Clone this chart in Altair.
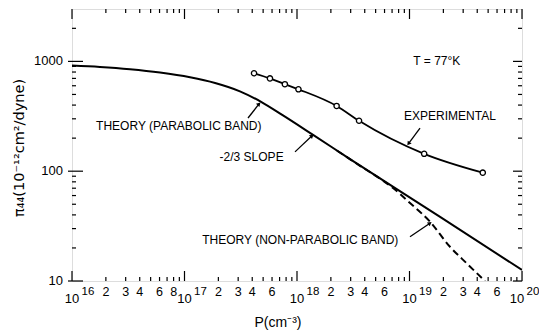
import altair as alt
import pandas as pd

# ---------------------------------------------------------------- curves
# Theory, parabolic band (solid line)
theory_parabolic_p = [1e16, 1.77e16, 3.28e16, 6.06e16, 1.12e17, 1.87e17, 3.11e17,
                      4.88e17, 7.51e17, 1.39e18, 2.96e18, 1.87e19, 1e20]
theory_parabolic_pi = [918, 891, 849, 792, 717, 636, 534,
                       424, 322, 214, 129, 38.3, 12.6]

# Theory, non-parabolic band (dashed line)
theory_nonparabolic_p = [2.27e18, 3.63e18, 5.81e18, 7.18e18, 1.01e19,
                         1.52e19, 2.29e19, 3.22e19, 4.69e19]
theory_nonparabolic_pi = [154, 112, 82, 70, 51.3, 34.7, 20.5, 14.5, 10]

# Measured values at 77 K
experimental_p = [4.15e17, 5.75e17, 7.8e17, 1.03e18, 2.25e18, 3.56e18, 1.35e19, 4.48e19]
experimental_pi = [780, 700, 620, 557, 393, 288, 144, 97]

# ----------------------------------------------------------- annotations
label_text = ["T = 77°K", "EXPERIMENTAL", "THEORY (PARABOLIC BAND)",
              "-2/3 SLOPE", "THEORY (NON-PARABOLIC BAND)"]
label_p = [1.75e19, 2.29e19, 8.9e16, 3.95e17, 1.07e18]
label_pi = [1000, 318, 258, 135, 23.6]

arrow_name = ["experimental", "parabolic", "slope", "nonparabolic"]
arrow_tail_p = [1.24e19, 3.67e17, 9.6e17, 1.01e19]
arrow_tail_pi = [247, 305, 150, 25.3]
arrow_head_p = [9.8e18, 4.6e17, 1.36e18, 1.52e19]
arrow_head_pi = [178, 410, 210, 33.6]
arrow_angle = [215, 43, 50, 55]

# ------------------------------------------------------------ axis ticks
x_decades = [1e16, 1e17, 1e18, 1e19, 1e20]
x_decade_exp = ["16", "17", "18", "19", "20"]
x_minor_mult = [2, 3, 4, 5, 6, 7, 8, 9]
x_minor = [m * d for d in x_decades[:-1] for m in x_minor_mult]
x_minor_label_p = [2e16, 3e16, 4e16, 6e16, 8e16,
                   2e17, 3e17, 4e17, 6e17,
                   2e18, 3e18, 4e18, 6e18,
                   2e19, 3e19, 4e19, 6e19]
x_minor_label = ["2", "3", "4", "6", "8",
                 "2", "3", "4", "6",
                 "2", "3", "4", "6",
                 "2", "3", "4", "6"]

y_major = [10, 100, 1000]
y_major_label = ["10", "100", "1000"]
y_minor = [20, 30, 40, 50, 60, 70, 80, 90,
           200, 300, 400, 500, 600, 700, 800, 900, 2000]

W, H = 450, 272
FONT = "Liberation Sans"

xs = alt.Scale(type="log", domain=[1e16, 1e20], nice=False)
ys = alt.Scale(type="log", domain=[10, 3000], nice=False)
X = lambda f: alt.X(f, type="quantitative", scale=xs, axis=None)
Y = lambda f: alt.Y(f, type="quantitative", scale=ys, axis=None)

parabolic = pd.DataFrame({"p": theory_parabolic_p, "pi": theory_parabolic_pi})
nonparabolic = pd.DataFrame({"p": theory_nonparabolic_p, "pi": theory_nonparabolic_pi})
experimental = pd.DataFrame({"p": experimental_p, "pi": experimental_pi})
labels = pd.DataFrame({"p": label_p, "pi": label_pi, "t": label_text})
arrow_lines = pd.DataFrame({
    "name": arrow_name * 2,
    "p": arrow_tail_p + arrow_head_p,
    "pi": arrow_tail_pi + arrow_head_pi,
    "order": [0] * len(arrow_name) + [1] * len(arrow_name),
})
arrow_heads = pd.DataFrame({"p": arrow_head_p, "pi": arrow_head_pi, "a": arrow_angle})

solid = alt.Chart(parabolic).mark_line(
    color="black", strokeWidth=2, interpolate="monotone", clip=True
).encode(x=X("p"), y=Y("pi"))

dashed = alt.Chart(nonparabolic).mark_line(
    color="black", strokeWidth=2, strokeDash=[7, 4], interpolate="monotone", clip=True
).encode(x=X("p"), y=Y("pi"))

exp_line = alt.Chart(experimental).mark_line(
    color="black", strokeWidth=1.8, interpolate="monotone"
).encode(x=X("p"), y=Y("pi"))

exp_pts = alt.Chart(experimental).mark_point(
    shape="circle", filled=True, fill="white", stroke="black",
    strokeWidth=1.3, size=28, opacity=1
).encode(x=X("p"), y=Y("pi"))

text = alt.Chart(labels).mark_text(
    font=FONT, fontSize=12, color="black", align="center", baseline="middle"
).encode(x=X("p"), y=Y("pi"), text="t:N")

arrows = alt.Chart(arrow_lines).mark_line(color="black", strokeWidth=1.3).encode(
    x=X("p"), y=Y("pi"), detail="name:N", order="order:Q")

heads = alt.Chart(arrow_heads).mark_point(
    shape="triangle-up", filled=True, color="black", size=22, opacity=1
).encode(x=X("p"), y=Y("pi"), angle=alt.Angle("a:Q", scale=None))

# tick marks pointing into the frame on all four sides
def xticks(vals, y0, y1):
    return alt.Chart(pd.DataFrame({"v": vals})).mark_rule(
        color="black", strokeWidth=1.2).encode(
        x=X("v"), y=alt.value(y0), y2=alt.value(y1))

def yticks(vals, x0, x1):
    return alt.Chart(pd.DataFrame({"v": vals})).mark_rule(
        color="black", strokeWidth=1.2).encode(
        y=Y("v"), x=alt.value(x0), x2=alt.value(x1))

tick_layers = [
    xticks(x_decades, H, H - 10), xticks(x_minor, H, H - 4),
    xticks(x_decades, 0, 10), xticks(x_minor, 0, 4),
    yticks(y_major, -4, 11), yticks(y_minor, 0, 4),
    yticks(y_major, W, W - 9), yticks(y_minor, W, W - 4),
]

# y tick labels
y_lab = alt.Chart(pd.DataFrame({"v": y_major, "t": y_major_label})).mark_text(
    font=FONT, fontSize=13, color="black", baseline="middle", align="right"
).encode(y=Y("v"), x=alt.value(-9), text="t:N")

# x tick labels: 10 with a raised exponent, plus the in-between digits
def decade_labels(df, shift):
    ten = alt.Chart(df).mark_text(
        font=FONT, fontSize=13, color="black", baseline="middle", align="center", dx=shift
    ).encode(x=X("v"), y=alt.value(H + 18), text=alt.value("10"))
    expo = alt.Chart(df).mark_text(
        font=FONT, fontSize=11.5, color="black", baseline="middle", align="center",
        dx=16 + shift
    ).encode(x=X("v"), y=alt.value(H + 11), text="e:N")
    return [ten, expo]

dec_df = pd.DataFrame({"v": x_decades, "e": x_decade_exp})
dec_inner = decade_labels(dec_df.iloc[:-1], 0)
dec_last = decade_labels(dec_df.iloc[-1:], -5)

minor_lab = alt.Chart(pd.DataFrame({"v": x_minor_label_p, "t": x_minor_label})).mark_text(
    font=FONT, fontSize=12.5, color="black", baseline="middle", align="center"
).encode(x=X("v"), y=alt.value(H + 11), text="t:N")

x_title = alt.Chart(pd.DataFrame({"t": ["P(cm⁻³)"]})).mark_text(
    font=FONT, fontSize=14, color="black", baseline="middle", align="center"
).encode(x=alt.value(206), y=alt.value(H + 42), text="t:N")

y_title = alt.Chart(pd.DataFrame({"t": ["π₄₄(10⁻¹²cm²/dyne)"]})).mark_text(
    font="DejaVu Sans", fontSize=14.5, color="black", baseline="middle",
    align="center", angle=270
).encode(x=alt.value(-52), y=alt.value(139), text="t:N")

chart = alt.layer(
    *tick_layers, solid, dashed, exp_line, exp_pts, arrows, heads, text,
    y_lab, *dec_inner, *dec_last, minor_lab, x_title, y_title
).properties(
    width=W, height=H,
    autosize=alt.AutoSizeParams(type="none"),
    padding={"left": 72, "top": 9, "right": 17, "bottom": 52},
).configure_view(
    stroke="black", strokeWidth=1.5
).configure(background="white")

chart.save("out.html", embed_options={"renderer": "svg", "actions": False})
